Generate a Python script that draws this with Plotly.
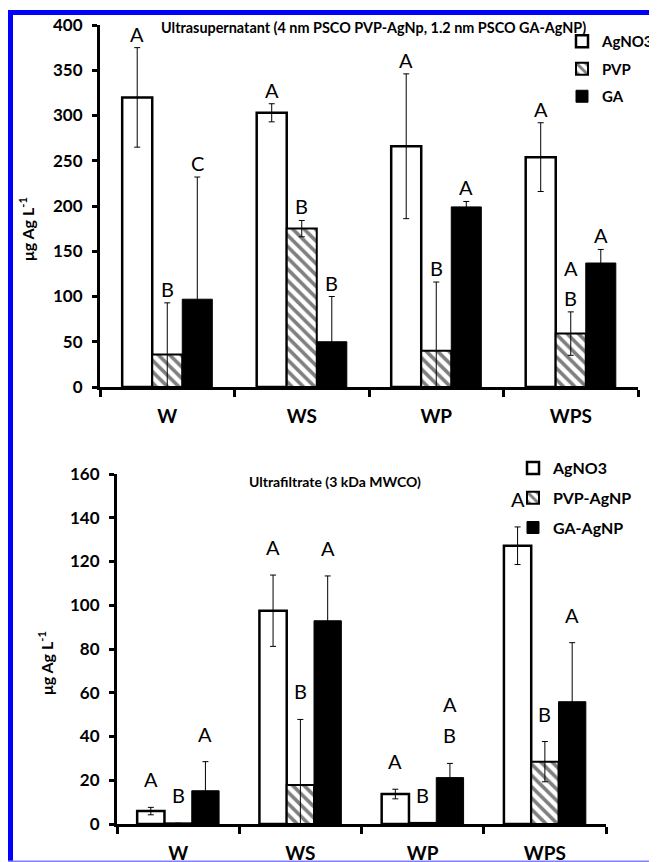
import plotly.graph_objects as go

# The page body has an 8px default margin; work in window pixels.
OFF = 8
WIN_W, WIN_H = 657, 862
W, H = WIN_W - OFF, WIN_H - OFF

categories = ["W", "WS", "WP", "WPS"]

# Top panel: Ultrasupernatant
top_agno3 = [320, 303, 266, 254]
top_agno3_err = [55, 10, 80, 38]
top_pvp = [36, 175, 40, 59]
top_pvp_err = [57, 9, 76, 24]
top_ga = [97, 50, 199, 137]
top_ga_err = [135, 50, 6, 15]
top_letters_agno3 = ["A", "A", "A", "A"]
top_letters_pvp = ["B", "B", "B", "A|B"]
top_letters_ga = ["C", "B", "A", "A"]

# Bottom panel: Ultrafiltrate
bot_agno3 = [5.9, 97.5, 13.7, 127.2]
bot_agno3_err = [1.7, 16.3, 2.2, 8.6]
bot_pvp = [0.3, 17.8, 0.5, 28.5]
bot_pvp_err = [0, 30, 0, 9.2]
bot_ga = [15.2, 92.9, 21.2, 55.9]
bot_ga_err = [13.3, 20.5, 6.5, 27]
bot_letters_agno3 = ["A", "A", "A", "A"]
bot_letters_pvp = ["B", "B", "B", "B"]
bot_letters_ga = ["A", "A", "A|B", "A"]

top_names = ["AgNO3", "PVP", "GA"]
bot_names = ["AgNO3", "PVP-AgNP", "GA-AgNP"]

FONT = "Lato, 'Open Sans', sans-serif"
BARGAP = 0.33


def px_x(p):
    return (p - OFF) / W


def px_y(p):
    return 1 - (p - OFF) / H


fig = go.Figure()

styles = [
    dict(marker=dict(color="white", line=dict(color="black", width=2.5))),
    dict(marker=dict(color="white", line=dict(color="black", width=2),
                     pattern=dict(shape="\\", fgcolor="black", bgcolor="white",
                                  size=8, solidity=0.45))),
    dict(marker=dict(color="black", line=dict(color="black", width=1))),
]

panels = [
    dict(x="x", y="y", legend="legend", names=top_names,
         vals=[top_agno3, top_pvp, top_ga],
         errs=[top_agno3_err, top_pvp_err, top_ga_err],
         letters=[top_letters_agno3, top_letters_pvp, top_letters_ga],
         gap=14, step=30, grp="t"),
    dict(x="x2", y="y2", legend="legend2", names=bot_names,
         vals=[bot_agno3, bot_pvp, bot_ga],
         errs=[bot_agno3_err, bot_pvp_err, bot_ga_err],
         letters=[bot_letters_agno3, bot_letters_pvp, bot_letters_ga],
         gap=28, step=31, grp="b"),
]

annotations = []
bw = (1 - BARGAP) / 3
for p in panels:
    for k in range(3):
        fig.add_trace(go.Bar(
            x=categories, y=p["vals"][k], name=p["names"][k],
            xaxis=p["x"], yaxis=p["y"], legend=p["legend"],
            legendgroup=p["grp"] + str(k),
            error_y=dict(type="data", array=p["errs"][k], visible=True,
                         color="black", thickness=1, width=3),
            **styles[k]))
        for ci, lab in enumerate(p["letters"][k]):
            top = p["vals"][k][ci] + p["errs"][k][ci]
            for j, ch in enumerate(reversed(lab.split("|"))):
                annotations.append(dict(
                    x=ci + (k - 1) * bw, y=top, xref=p["x"], yref=p["y"],
                    text=ch, showarrow=False, xanchor="center", yanchor="middle",
                    yshift=p["gap"] + j * p["step"],
                    font=dict(family=FONT, size=20, color="black")))

annotations += [
    dict(x=px_x(373), y=px_y(27), xref="paper", yref="paper",
         xanchor="center", yanchor="middle",
         text="<b>Ultrasupernatant (4 nm PSCO PVP-AgNp, 1.2 nm PSCO GA-AgNP)</b>",
         showarrow=False, font=dict(family=FONT, size=14.4, color="black")),
    dict(x=px_x(335), y=px_y(482), xref="paper", yref="paper",
         xanchor="center", yanchor="middle",
         text="<b>Ultrafiltrate (3 kDa MWCO)</b>",
         showarrow=False, font=dict(family=FONT, size=14, color="black")),
    dict(x=px_x(27), y=px_y(229), xref="paper", yref="paper",
         xanchor="center", yanchor="middle",
         text="<b>μg Ag L<sup>-1</sup></b>", textangle=-90,
         showarrow=False, font=dict(family=FONT, size=16, color="black")),
    dict(x=px_x(45), y=px_y(663), xref="paper", yref="paper",
         xanchor="center", yanchor="middle",
         text="<b>μg Ag L<sup>-1</sup></b>", textangle=-90,
         showarrow=False, font=dict(family=FONT, size=16, color="black")),
]

xcommon = dict(type="category", tickson="boundaries", ticks="outside",
               ticklen=7, tickwidth=2.5, tickcolor="black",
               showline=True, linecolor="black", linewidth=3,
               showgrid=False, zeroline=False, ticklabelstandoff=10,
               tickfont=dict(family=FONT, size=19, color="black", weight="bold"),
               range=[-0.5, 3.5], fixedrange=True)
ycommon = dict(ticks="outside", ticklen=5, tickwidth=2.5, tickcolor="black",
               showline=True, linecolor="black", linewidth=3,
               showgrid=False, zeroline=False, ticklabelstandoff=6,
               tickfont=dict(family=FONT, size=17, color="black", weight="bold"))

shapes = [
    dict(type="rect", xref="paper", yref="paper", x0=px_x(8), x1=px_x(13),
         y0=0, y1=px_y(10), fillcolor="#0000ff", line=dict(width=0)),
    dict(type="rect", xref="paper", yref="paper", x0=px_x(8), x1=px_x(653),
         y0=px_y(15), y1=px_y(10), fillcolor="#0000ff", line=dict(width=0)),
    dict(type="rect", xref="paper", yref="paper", x0=px_x(651.5), x1=px_x(653),
         y0=0, y1=px_y(10), fillcolor="#2020ff", line=dict(width=0)),
    dict(type="rect", xref="paper", yref="paper", x0=px_x(8), x1=px_x(653),
         y0=px_y(862), y1=px_y(860.5), fillcolor="#8080ff", line=dict(width=0)),
]

fig.update_layout(
    width=W, height=H, margin=dict(l=0, r=0, t=0, b=0, autoexpand=False),
    paper_bgcolor="white", plot_bgcolor="white",
    barmode="group", bargap=BARGAP, bargroupgap=0,
    xaxis=dict(domain=[px_x(100), px_x(638)], anchor="y", **xcommon),
    yaxis=dict(domain=[px_y(387), px_y(25)], anchor="x", range=[0, 400],
               dtick=50, **ycommon),
    xaxis2=dict(domain=[px_x(117), px_x(606)], anchor="y2", **xcommon),
    yaxis2=dict(domain=[px_y(824), px_y(474)], anchor="x2", range=[0, 160],
                dtick=20, **ycommon),
    legend=dict(x=px_x(562), y=px_y(25), xanchor="left", yanchor="top",
                bgcolor="rgba(0,0,0,0)", itemwidth=30, tracegroupgap=5,
                font=dict(family=FONT, size=15, color="black", weight="bold")),
    legend2=dict(x=px_x(513), y=px_y(451), xanchor="left", yanchor="top",
                 bgcolor="rgba(0,0,0,0)", itemwidth=30, tracegroupgap=6,
                 font=dict(family=FONT, size=16, color="black", weight="bold")),
    annotations=annotations, shapes=shapes, showlegend=True,
)

fig.write_html("out.html")
